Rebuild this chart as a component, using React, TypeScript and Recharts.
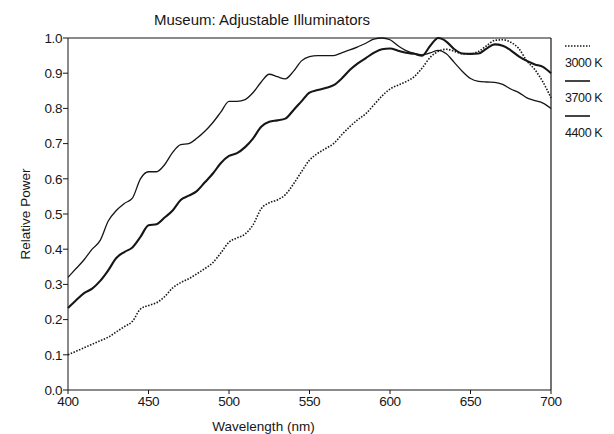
import { Label, Line, LineChart, ReferenceLine, XAxis, YAxis } from "recharts";

const wavelengths = [
  400, 405, 410, 415, 420, 425, 430, 435, 440, 445, 450, 455, 460, 465, 470, 475, 480, 485, 490, 495,
  500, 505, 510, 515, 520, 525, 530, 535, 540, 545, 550, 555, 560, 565, 570, 575, 580, 585, 590, 595,
  600, 605, 610, 615, 620, 625, 630, 635, 640, 645, 650, 655, 660, 665, 670, 675, 680, 685, 690, 695, 700,
];

const k3000 = [
  0.1, 0.11, 0.12, 0.13, 0.14, 0.15, 0.165, 0.18, 0.195, 0.23, 0.24, 0.248, 0.265, 0.29, 0.305, 0.316, 0.33, 0.345, 0.362, 0.39,
  0.42, 0.432, 0.443, 0.47, 0.515, 0.532, 0.54, 0.555, 0.585, 0.62, 0.653, 0.672, 0.686, 0.7, 0.725, 0.748, 0.768, 0.785, 0.81, 0.835,
  0.855, 0.866, 0.876, 0.89, 0.915, 0.945, 0.962, 0.968, 0.962, 0.955, 0.955, 0.962, 0.978, 0.993, 0.995, 0.988, 0.97, 0.935, 0.91, 0.875, 0.83,
];

const k3700 = [
  0.233, 0.255, 0.275, 0.288, 0.31, 0.34, 0.375, 0.392, 0.405, 0.435, 0.468, 0.471, 0.49, 0.51, 0.54, 0.552, 0.565, 0.59, 0.615, 0.645,
  0.665, 0.673, 0.69, 0.715, 0.748, 0.762, 0.766, 0.771, 0.795, 0.82, 0.845, 0.852, 0.858, 0.866, 0.885, 0.909, 0.928, 0.943, 0.958, 0.968,
  0.97, 0.964, 0.958, 0.955, 0.95, 0.978, 1.0, 0.99, 0.968, 0.956, 0.955, 0.956, 0.97, 0.982, 0.978, 0.965, 0.948, 0.935, 0.925, 0.918, 0.9,
];

const k4400 = [
  0.32, 0.345, 0.37, 0.4, 0.425, 0.48, 0.51, 0.53, 0.545, 0.6, 0.62, 0.62, 0.64, 0.675, 0.697, 0.7, 0.715, 0.735, 0.76, 0.79,
  0.82, 0.82, 0.825, 0.845, 0.875, 0.897, 0.89, 0.884, 0.905, 0.935, 0.947, 0.95, 0.95, 0.95, 0.958, 0.966, 0.975, 0.985, 0.997, 1.0,
  0.995, 0.978, 0.964, 0.956, 0.952, 0.958, 0.965, 0.955, 0.93, 0.905, 0.885, 0.877, 0.875, 0.874, 0.868, 0.855, 0.845, 0.83, 0.822, 0.815, 0.8,
];

const xTicks = [400, 450, 500, 550, 600, 650, 700];
const yTicks = [0, 0.1, 0.2, 0.3, 0.4, 0.5, 0.6, 0.7, 0.8, 0.9, 1.0];

const data = wavelengths.map((nm, i) => ({ nm, k3000: k3000[i], k3700: k3700[i], k4400: k4400[i] }));

const FONT = "'Liberation Sans', Arial, sans-serif";
const INK = "#161616";

const legendItems = [
  { label: "3000 K", dash: "1.5 1.5" },
  { label: "3700 K", dash: undefined },
  { label: "4400 K", dash: undefined },
];

function IlluminatorLegend() {
  return (
    <div
      style={{
        position: "absolute",
        left: 565,
        top: 37,
        fontFamily: FONT,
        fontSize: 12.5,
        color: INK,
        lineHeight: "17.5px",
      }}
    >
      {legendItems.map((it) => (
        <div key={it.label}>
          <svg width={26} height={17.5} style={{ display: "block" }}>
            <line x1={0} x2={25} y1={9} y2={9} stroke={INK} strokeWidth={1.6} strokeDasharray={it.dash} />
          </svg>
          <div style={{ letterSpacing: -0.4, whiteSpace: "nowrap" }}>{it.label}</div>
        </div>
      ))}
    </div>
  );
}

export default function App() {
  return (
    <div style={{ position: "fixed", left: 0, top: 0, width: 614, height: 434, background: "#fff" }}>
      <LineChart
        width={614}
        height={434}
        data={data}
        margin={{ top: 38, right: 63, bottom: 0, left: 0 }}
        style={{ fontFamily: FONT }}
      >
        <text x={262} y={25} textAnchor="middle" fontSize={15} fill={INK} fontFamily={FONT}>
          Museum: Adjustable Illuminators
        </text>
        <XAxis
          dataKey="nm"
          type="number"
          domain={[400, 700]}
          ticks={xTicks}
          height={44}
          stroke={INK}
          tickSize={4}
          tickMargin={2}
          tick={{ fill: INK, fontSize: 13.5, letterSpacing: -0.4 }}
        >
          <Label
            value="Wavelength (nm)"
            position="insideBottom"
            offset={3}
            dx={-46}
            style={{ fill: INK, fontSize: 13.5, fontFamily: FONT }}
          />
        </XAxis>
        <YAxis
          type="number"
          domain={[0, 1]}
          ticks={yTicks}
          width={68}
          stroke={INK}
          tickSize={5}
          tickMargin={1}
          tickFormatter={(v: number) => v.toFixed(1)}
          tick={{ fill: INK, fontSize: 13.5, letterSpacing: -0.4 }}
        >
          <Label
            value="Relative Power"
            angle={-90}
            position="insideLeft"
            offset={25}
            style={{ fill: INK, fontSize: 13.5, fontFamily: FONT, textAnchor: "middle" }}
          />
        </YAxis>
        <ReferenceLine y={1} stroke={INK} strokeWidth={1.2} />
        <ReferenceLine x={700} stroke={INK} strokeWidth={1.2} />
        <Line
          type="monotone"
          dataKey="k3000"
          stroke={INK}
          strokeWidth={1.6}
          strokeDasharray="1.5 1.5"
          dot={false}
          isAnimationActive={false}
        />
        <Line type="monotone" dataKey="k3700" stroke={INK} strokeWidth={2.1} dot={false} isAnimationActive={false} />
        <Line type="monotone" dataKey="k4400" stroke={INK} strokeWidth={1.3} dot={false} isAnimationActive={false} />
      </LineChart>
      <IlluminatorLegend />
    </div>
  );
}
